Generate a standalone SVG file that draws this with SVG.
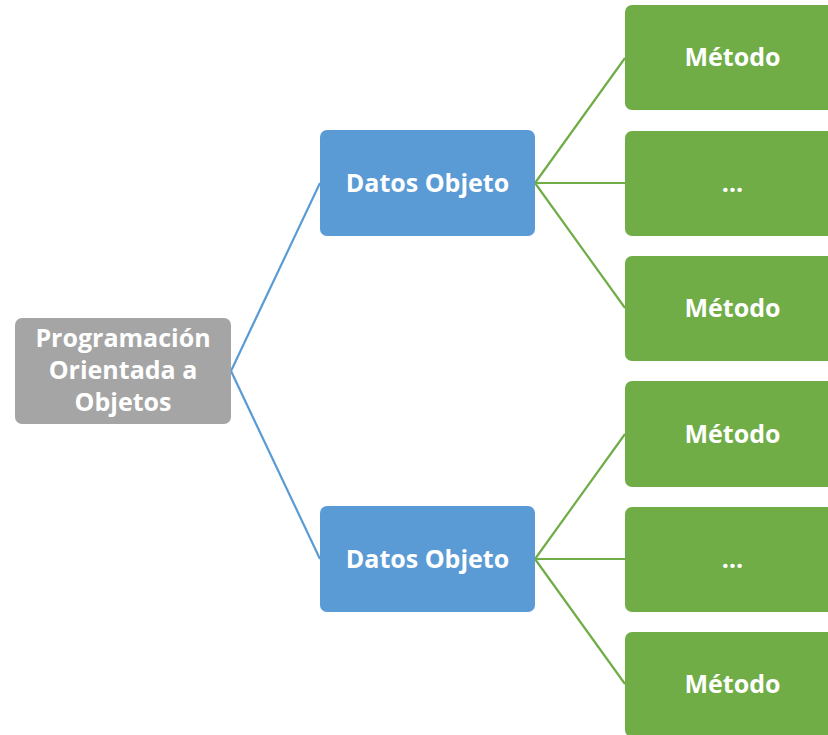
<svg xmlns="http://www.w3.org/2000/svg" width="828" height="735" viewBox="0 0 828 735">
<style>
.t{font-family:"Open Sans","Liberation Sans",sans-serif;font-weight:bold;font-size:25px;fill:#fff;text-anchor:middle}
.g{fill:#70AD47}
.b{fill:#5B9BD5}
.r{fill:#A5A5A5}
.cb{stroke:#5B9BD5;stroke-width:2.2;fill:none}
.cg{stroke:#70AD47;stroke-width:2.2;fill:none}
</style>
<rect width="828" height="735" fill="#fff"/>
<g id="connectors">
<path class="cb" d="M231,371 L320,183 M231,371 L320,559"/>
<path class="cg" d="M535,183 L625,58 M535,183 L625,183 M535,183 L625,308"/>
<path class="cg" d="M535,559 L625,434 M535,559 L625,559 M535,559 L625,684"/>
</g>
<g id="root">
<rect class="r" x="15" y="318" width="216" height="106" rx="7"/>
<text class="t" x="123" y="347">Programación</text>
<text class="t" x="123" y="379">Orientada a</text>
<text class="t" x="123" y="411">Objetos</text>
</g>
<g id="datos1">
<rect class="b" x="320" y="130" width="215" height="106" rx="7"/>
<text class="t" x="427.5" y="192">Datos Objeto</text>
</g>
<g id="datos2">
<rect class="b" x="320" y="506" width="215" height="106" rx="7"/>
<text class="t" x="427.5" y="568">Datos Objeto</text>
</g>
<g id="m1"><rect class="g" x="625" y="5" width="215" height="105" rx="7"/><text class="t" x="732.5" y="66">Método</text></g>
<g id="m2"><rect class="g" x="625" y="131" width="215" height="105" rx="7"/><text class="t" x="732.5" y="192">…</text></g>
<g id="m3"><rect class="g" x="625" y="256" width="215" height="105" rx="7"/><text class="t" x="732.5" y="317">Método</text></g>
<g id="m4"><rect class="g" x="625" y="381" width="215" height="106" rx="7"/><text class="t" x="732.5" y="443">Método</text></g>
<g id="m5"><rect class="g" x="625" y="507" width="215" height="105" rx="7"/><text class="t" x="732.5" y="568">…</text></g>
<g id="m6"><rect class="g" x="625" y="632" width="215" height="105" rx="7"/><text class="t" x="732.5" y="693">Método</text></g>
</svg>
